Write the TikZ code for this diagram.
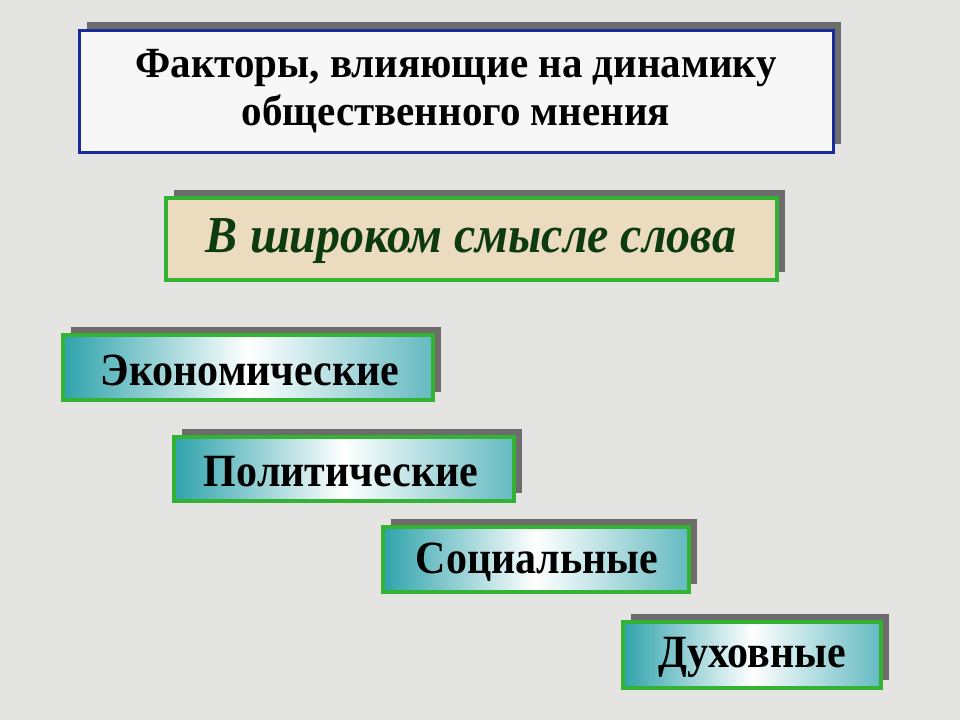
\documentclass[tikz,border=0pt]{standalone}
\usepackage{fontspec}
\setmainfont{Liberation Serif}
\definecolor{bg}{HTML}{E4E4E2}
\definecolor{gbord}{HTML}{33B233}
\definecolor{teal1}{HTML}{2FA3AC}
\definecolor{beige}{HTML}{EBDCC0}
\definecolor{dgreen}{HTML}{0E3A10}
\definecolor{bblue}{HTML}{1A2A9A}
\begin{document}
\begin{tikzpicture}[x=1pt,y=-1pt,
  shad/.style={fill=gray!85!black},
  gbox/.style={draw=gbord,line width=4pt,left color=teal1,right color=teal1!75,middle color=white},
  btxt/.style={font=\fontsize{42}{46}\selectfont\bfseries,yscale=1.1}]
\useasboundingbox (0,0) rectangle (960,720);
\fill[bg] (0,0) rectangle (960,720);
% title
\fill[shad] (87,22) rectangle (841,144);
\filldraw[fill=white!94!gray,draw=bblue,line width=3pt] (79,30) rectangle (833,152);
\node[align=center,font=\fontsize{41}{46}\selectfont\bfseries,yscale=1.05] (title) at (456,91) {Факторы, влияющие на динамику\\общественного мнения};
% wide sense
\fill[shad] (174,190) rectangle (785,272);
\filldraw[fill=beige,draw=gbord,line width=4pt] (166,198) rectangle (777,280);
\node[font=\fontsize{48}{52}\selectfont\bfseries\itshape,text=dgreen,yscale=1.08] (wide) at (471,241) {В широком смысле слова};
% categories
\fill[shad] (71,327) rectangle (441,392);
\path[gbox] (63,335) rectangle (433,400);
\node[btxt] (econ) at (250,370) {Экономические};
\fill[shad] (182,429) rectangle (522,493);
\path[gbox] (174,437) rectangle (514,501);
\node[btxt] (pol) at (341,472) {Политические};
\fill[shad] (391,519) rectangle (697,584);
\path[gbox] (383,527) rectangle (689,592);
\node[btxt] (soc) at (537,562) {Социальные};
\fill[shad] (631,614) rectangle (889,680);
\path[gbox] (623,622) rectangle (881,688);
\node[btxt] (duh) at (752,657) {Духовные};
\end{tikzpicture}
\end{document}
